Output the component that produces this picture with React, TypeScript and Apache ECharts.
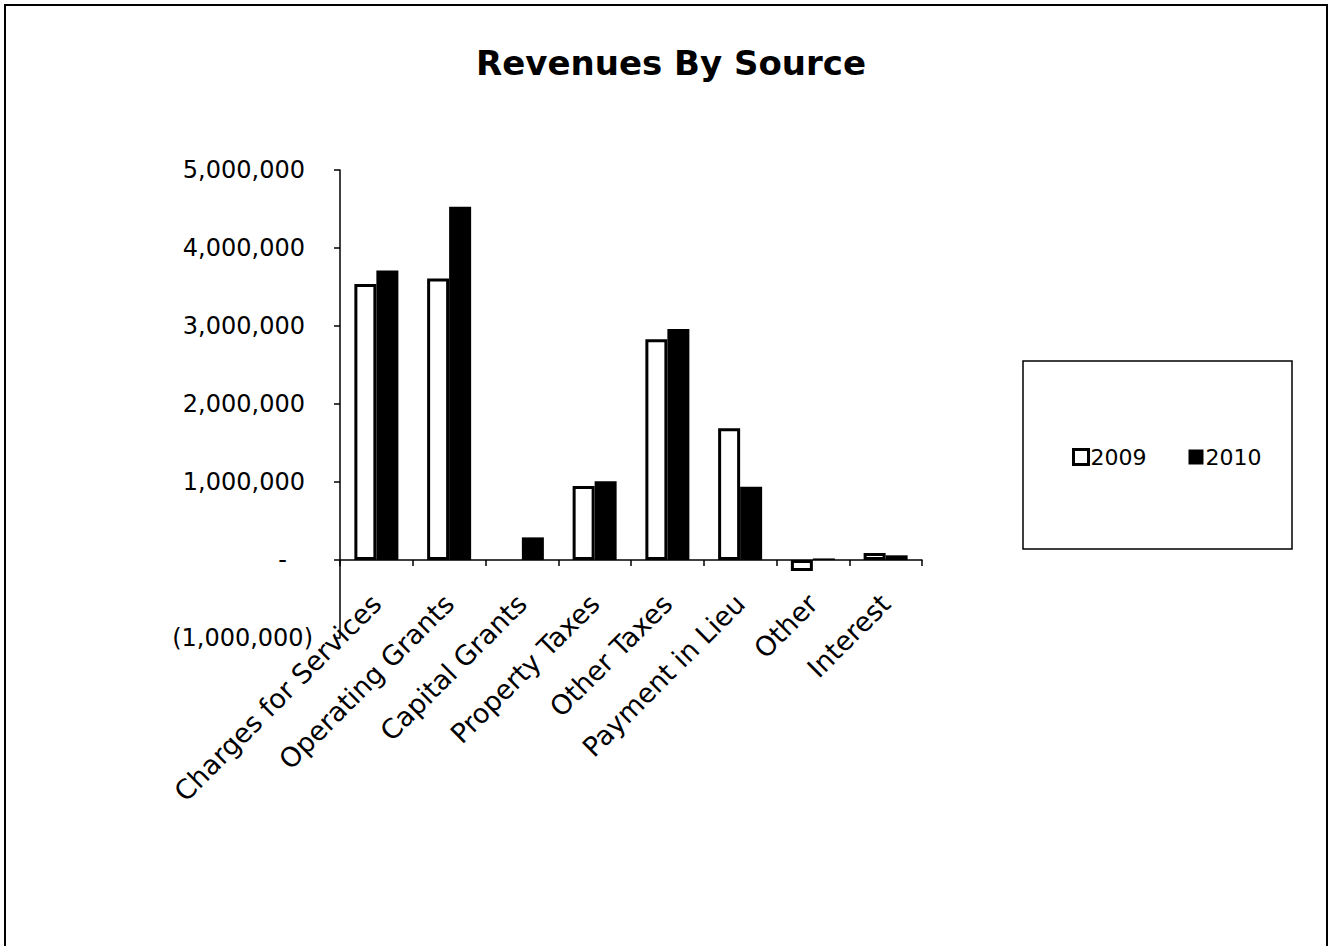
import React, { useEffect, useRef } from "react";
import * as echarts from "echarts";

const categories = [
  "Charges for Services",
  "Operating Grants",
  "Capital Grants",
  "Property Taxes",
  "Other Taxes",
  "Payment in Lieu",
  "Other",
  "Interest",
];
const values2009 = [3540000, 3610000, 0, 950000, 2830000, 1690000, -140000, 90000];
const values2010 = [3710000, 4530000, 290000, 1010000, 2960000, 940000, 20000, 60000];
const seriesNames = ["2009", "2010"];
const yMin = -1000000;
const yMax = 5000000;
const yStep = 1000000;

const FONT = "DejaVu Sans, Verdana, sans-serif";

function fmt(n: number): string {
  return n.toLocaleString("en-US");
}

export default function App() {
  const ref = useRef<HTMLDivElement>(null);
  useEffect(() => {
    document.body.style.margin = "0";
    if (!ref.current) return;
    const chart = echarts.init(ref.current, undefined, { renderer: "svg" });
    chart.setOption({
      animation: false,
      backgroundColor: "#fff",
      title: {
        text: "Revenues By Source",
        left: 666,
        textAlign: "center",
        top: 41,
        textStyle: { fontFamily: FONT, fontSize: 34, fontWeight: "bold", color: "#000" },
      },
      graphic: [
        {
          type: "rect",
          shape: { x: 5, y: 5, width: 1322, height: 960 },
          style: { fill: "none", stroke: "#000", lineWidth: 2 },
        },
        {
          type: "rect",
          shape: { x: 1023, y: 361, width: 269, height: 188 },
          style: { fill: "none", stroke: "#000", lineWidth: 1.5 },
        },
      ],
      legend: {
        data: [
          { name: seriesNames[0], itemStyle: { color: "#fff", borderColor: "#000", borderWidth: 3 } },
          { name: seriesNames[1], itemStyle: { color: "#000", borderWidth: 0 } },
        ],
        left: 1067,
        top: 441,
        itemWidth: 15,
        itemHeight: 15,
        itemGap: 42,
        icon: "rect",
        textStyle: { fontFamily: FONT, fontSize: 22, color: "#000", padding: [0, 0, 0, -3] },
      },
      grid: { left: 340, top: 170, width: 582, height: 468, containLabel: false },
      xAxis: {
        type: "category",
        data: categories,
        axisLine: { show: true, onZero: true, lineStyle: { color: "#000", width: 1.5 } },
        axisTick: { show: true, length: 6, interval: 0, lineStyle: { color: "#000", width: 1.5 } },
        axisLabel: {
          interval: 0,
          rotate: 45,
          margin: -39,
          fontFamily: FONT,
          fontSize: 27,
          color: "#000",
        },
        splitLine: { show: false },
      },
      yAxis: {
        type: "value",
        min: yMin,
        max: yMax,
        interval: yStep,
        axisLine: { show: true, lineStyle: { color: "#000", width: 1.5 } },
        axisTick: { show: true, length: 6, lineStyle: { color: "#000", width: 1.5 } },
        splitLine: { show: false },
        axisLabel: {
          margin: 27,
          fontFamily: FONT,
          fontSize: 24,
          color: "#000",
          formatter: (v: number) =>
            v === 0 ? "{z|-}" : v < 0 ? "{n|(" + fmt(-v) + ")}" : "{p|" + fmt(v) + "}",
          rich: {
            p: { fontFamily: FONT, fontSize: 24, color: "#000", padding: [0, 8, 0, 0] },
            z: { fontFamily: FONT, fontSize: 24, color: "#000", padding: [0, 26, 0, 0] },
            n: { fontFamily: FONT, fontSize: 24, color: "#000" },
          },
        },
      },
      series: [
        {
          name: seriesNames[0],
          type: "bar",
          data: values2009.map((v) => (v === 0 ? "-" : v)),
          barWidth: 22,
          barGap: "0%",
          itemStyle: { color: "#fff", borderColor: "#000", borderWidth: 3 },
        },
        {
          name: seriesNames[1],
          type: "bar",
          data: values2010.map((v) => (v === 0 ? "-" : v)),
          barWidth: 22,
          barGap: "0%",
          itemStyle: { color: "#000", borderColor: "#000", borderWidth: 0 },
        },
      ],
    });
    return () => chart.dispose();
  }, []);
  return <div ref={ref} style={{ width: 1331, height: 946 }} />;
}
